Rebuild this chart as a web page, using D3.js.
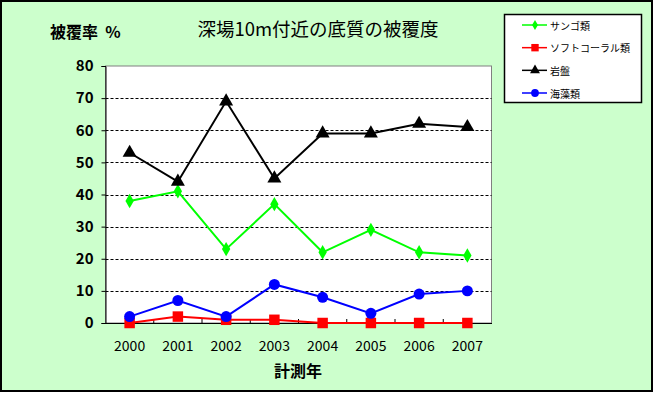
<!DOCTYPE html>
<html>
<head>
<meta charset="utf-8">
<script src="https://cdn.jsdelivr.net/npm/d3@7"></script>
<style>
  body { margin: 0; background: #fff; }
  svg { display: block; }
  text { font-family: "Noto Sans CJK JP", "DejaVu Sans", sans-serif; }
</style>
</head>
<body>
<svg id="chart" width="655" height="393"></svg>
<script>
const years = ["2000", "2001", "2002", "2003", "2004", "2005", "2006", "2007"];
const coral = [38, 41, 23, 37, 22, 29, 22, 21];
const softCoral = [0, 2, 1, 1, 0, 0, 0, 0];
const rock = [53, 44, 69, 45, 59, 59, 62, 61];
const seaweed = [2, 7, 2, 12, 8, 3, 9, 10];
const yTicks = [0, 10, 20, 30, 40, 50, 60, 70, 80];

const series = [
    { name: "サンゴ類", values: coral, color: "#00ff00", marker: d3.symbolDiamond, size: 60 },
    { name: "ソフトコーラル類", values: softCoral, color: "#ff0000", marker: d3.symbolSquare, size: 110 },
    { name: "岩盤", values: rock, color: "#000000", marker: d3.symbolTriangle, size: 85 },
    { name: "海藻類", values: seaweed, color: "#0000ff", marker: d3.symbolCircle, size: 95 }
];

const svg = d3.select("#chart");
const plot = { left: 105.5, top: 66, right: 491.5, bottom: 323 };

svg.append("rect")
    .attr("x", 1).attr("y", 1)
    .attr("width", 651).attr("height", 390)
    .attr("fill", "#ccffcc")
    .attr("stroke", "#000").attr("stroke-width", 2);

const x = d3.scaleBand().domain(years).range([plot.left, plot.right]);
const y = d3.scaleLinear().domain([0, 80]).range([plot.bottom, plot.top]);

svg.append("rect")
    .attr("x", plot.left).attr("y", plot.top)
    .attr("width", plot.right - plot.left).attr("height", plot.bottom - plot.top)
    .attr("fill", "#fff").attr("stroke", "#808080").attr("stroke-width", 1);

// grid
svg.append("g")
    .selectAll("line")
    .data(yTicks.filter(t => t > 0 && t < 80))
    .join("line")
    .attr("x1", plot.left).attr("x2", plot.right)
    .attr("y1", d => Math.round(y(d)) + 0.5).attr("y2", d => Math.round(y(d)) + 0.5)
    .attr("stroke", "#000").attr("stroke-dasharray", "3,2");

// y axis
const yAxis = svg.append("g")
    .attr("transform", `translate(${plot.left},0)`)
    .call(d3.axisLeft(y).tickValues(yTicks).tickSize(4).tickPadding(8));
yAxis.select(".domain").attr("stroke", "#000");
yAxis.selectAll("text")
    .attr("font-size", 15).attr("font-weight", "bold").attr("fill", "#000")
    .attr("font-family", "'Liberation Sans', Arial, sans-serif");

// x axis
const xAxis = svg.append("g")
    .attr("transform", `translate(0,${plot.bottom})`)
    .call(d3.axisBottom(x).tickSize(0).tickPadding(18));
xAxis.select(".domain").attr("stroke", "#000");
xAxis.selectAll("text")
    .attr("font-size", 14).attr("fill", "#000")
    .attr("font-family", "'Liberation Sans', Arial, sans-serif");
xAxis.selectAll(".boundary")
    .data(years.slice(1))
    .join("line")
    .attr("x1", d => x(d)).attr("x2", d => x(d))
    .attr("y1", 0).attr("y2", -4)
    .attr("stroke", "#000");

const line = d3.line()
    .x((d, i) => x(years[i]) + x.bandwidth() / 2)
    .y(d => y(d));

series.forEach(s => {
    svg.append("path")
        .datum(s.values)
        .attr("fill", "none")
        .attr("stroke", s.color)
        .attr("stroke-width", 2)
        .attr("d", line);
});
series.forEach(s => {
    svg.append("g")
        .selectAll("path")
        .data(s.values)
        .join("path")
        .attr("transform", (d, i) => `translate(${x(years[i]) + x.bandwidth() / 2},${y(d)})`)
        .attr("d", d3.symbol(s.marker, s.size))
        .attr("fill", s.color);
});

// titles
svg.append("text")
    .attr("x", 318).attr("y", 36)
    .attr("text-anchor", "middle")
    .attr("font-size", 18.5)
    .text("深場10m付近の底質の被覆度");

svg.append("text")
    .attr("x", 50).attr("y", 38)
    .attr("font-size", 16).attr("font-weight", "bold")
    .text("被覆率\u00a0\u00a0%");

svg.append("text")
    .attr("x", 298).attr("y", 377)
    .attr("text-anchor", "middle")
    .attr("font-size", 16).attr("font-weight", "bold")
    .text("計測年");

// legend
const legend = svg.append("g");
legend.append("rect")
    .attr("x", 504.5).attr("y", 14.5)
    .attr("width", 137).attr("height", 88)
    .attr("fill", "#fff").attr("stroke", "#000").attr("stroke-width", 1.5);

const ly = d3.scalePoint().domain(series.map(s => s.name)).range([25, 93]);
series.forEach(s => {
    const g = legend.append("g").attr("transform", `translate(0,${ly(s.name)})`);
    g.append("line").attr("x1", 522).attr("x2", 547).attr("stroke", s.color).attr("stroke-width", 1.5);
    g.append("path").attr("transform", "translate(535,0)")
        .attr("d", d3.symbol(s.marker, s.size * 0.5)).attr("fill", s.color);
    g.append("text").attr("x", 550).attr("y", 4.5)
        .attr("font-size", 10).text(s.name);
});
</script>
</body>
</html>
